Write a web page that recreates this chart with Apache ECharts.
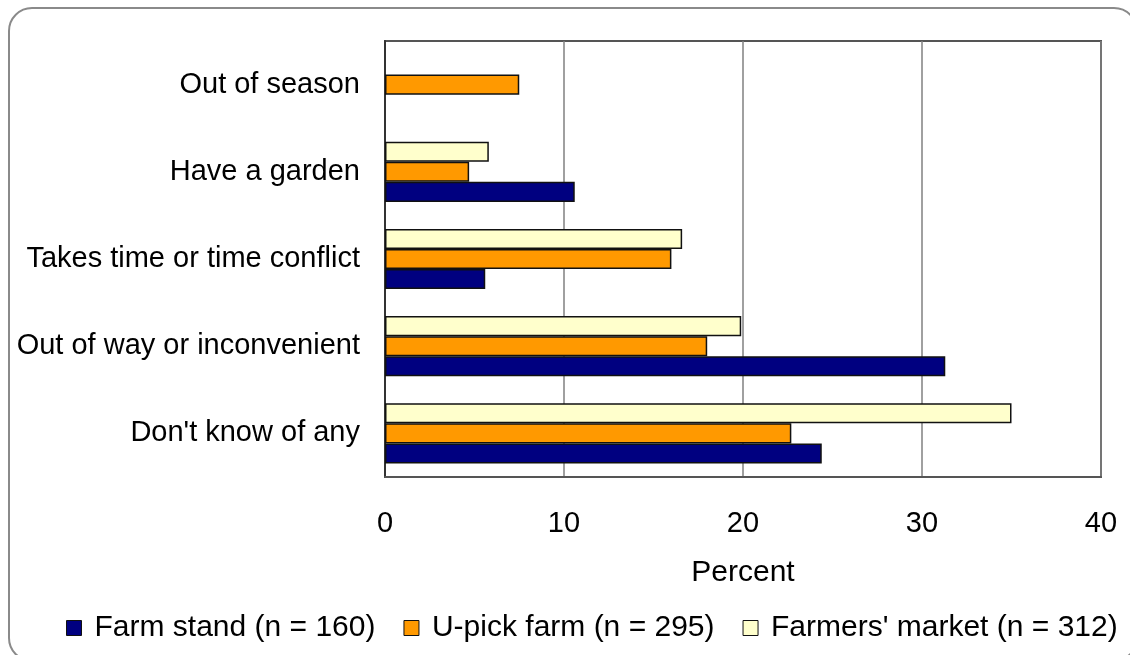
<!DOCTYPE html>
<html>
<head>
<meta charset="utf-8">
<script src="https://cdn.jsdelivr.net/npm/echarts@6/dist/echarts.min.js"></script>
<style>
html,body{margin:0;padding:0;background:#fff;}
#frame{position:absolute;left:8px;top:7px;width:1130px;height:655px;border:2px solid #8a8a8a;border-radius:24px;box-sizing:border-box;}
#chart{position:absolute;left:0;top:0;width:1130px;height:655px;}
</style>
</head>
<body>
<div id="frame"></div>
<div id="chart"></div>
<script>
const categories = ["Don't know of any", "Out of way or inconvenient", "Takes time or time conflict", "Have a garden", "Out of season"];
const farmStand = [24.4, 31.3, 5.6, 10.6, null];
const uPickFarm = [22.7, 18.0, 16.0, 4.7, 7.5];
const farmersMarket = [35.0, 19.9, 16.6, 5.8, null];
const seriesNames = ["Farm stand (n = 160)", "U-pick farm (n = 295)", "Farmers' market (n = 312)"];
const colors = ["#000080", "#FF9900", "#FFFFCC"];

const FONT = "'Liberation Sans', Arial, sans-serif";
const chart = echarts.init(document.getElementById('chart'), null, {renderer: 'canvas'});
const mk = (name, data, color) => ({
  name: name, type: 'bar', data: data, barGap: '0%', barCategoryGap: '31%',
  itemStyle: {color: color, borderColor: '#111', borderWidth: 1.5},
  emphasis: {disabled: true}, animation: false
});
chart.setOption({
  animation: false,
  color: colors,
  textStyle: {fontFamily: FONT},
  grid: {left: 385, right: 29, top: 41, bottom: 178, show: true, borderColor: '#555', borderWidth: 2, backgroundColor: 'transparent'},
  xAxis: {
    type: 'value', min: 0, max: 40, interval: 10,
    name: 'Percent', nameLocation: 'middle', nameGap: 81,
    nameTextStyle: {fontSize: 30, color: '#000', fontFamily: FONT},
    axisLine: {show: true, lineStyle: {color: '#555', width: 2}},
    axisTick: {show: false},
    axisLabel: {fontSize: 29, color: '#000', margin: 32, fontFamily: FONT},
    splitLine: {show: true, lineStyle: {color: '#808080', width: 1.5}}
  },
  yAxis: {
    type: 'category', data: categories,
    axisLine: {show: true, lineStyle: {color: '#333', width: 2}},
    axisTick: {show: false},
    axisLabel: {fontSize: 29, color: '#000', margin: 25, fontFamily: FONT},
    splitLine: {show: false}
  },
  legend: {
    orient: 'horizontal',
    bottom: 12, left: 66, width: 1064, padding: 0,
    itemWidth: 15, itemHeight: 15, itemGap: 28,
    icon: 'rect',
    textStyle: {fontSize: 30, color: '#000', fontFamily: FONT, padding: [0,0,0,8]},
    itemStyle: {borderColor: '#111', borderWidth: 1},
    data: seriesNames
  },
  series: [
    mk(seriesNames[2], farmersMarket, colors[2]),
    mk(seriesNames[1], uPickFarm, colors[1]),
    mk(seriesNames[0], farmStand, colors[0])
  ]
});
</script>
</body>
</html>
